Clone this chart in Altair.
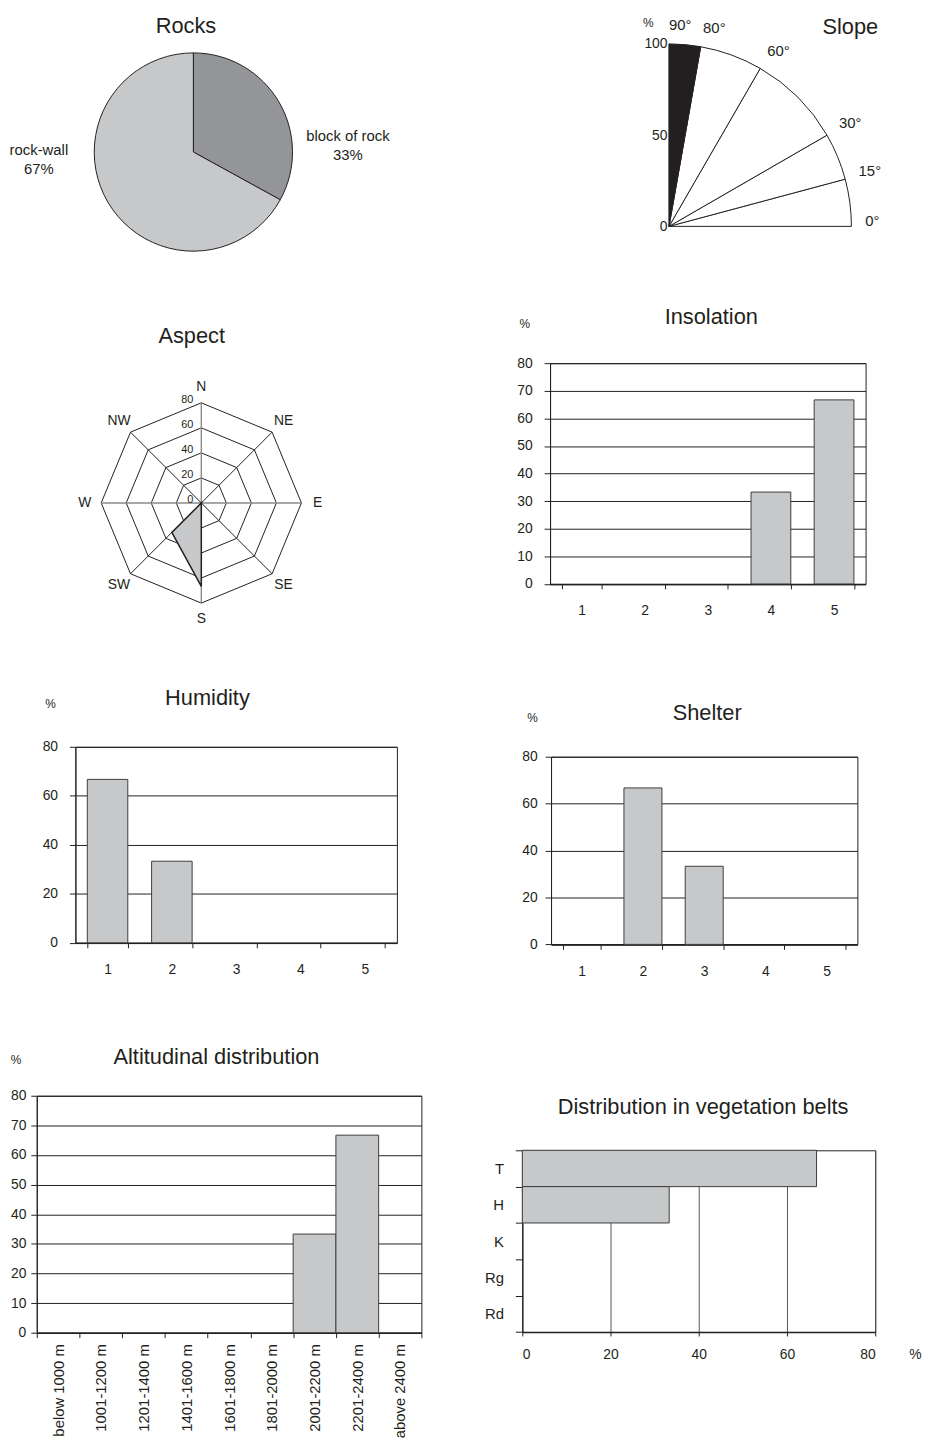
import math
import altair as alt
import pandas as pd

FONT = "Liberation Sans"
INK = "#231f20"
LIGHT = "#c7c8ca"
DARK = "#939598"
BAR_EDGE = "#3d3d3d"

# ---------------- data ----------------
rock_types = ["block of rock", "rock-wall"]
rock_pct = [33, 67]

slope_from = [0, 15, 30, 60, 80]
slope_to = [15, 30, 60, 80, 90]
slope_pct = [0, 0, 0, 0, 100]
slope_marks = [0, 15, 30, 60, 80, 90]

aspect_dirs = ["N", "NE", "E", "SE", "S", "SW", "W", "NW"]
aspect_pct = [0, 0, 0, 0, 66.7, 33.3, 0, 0]
aspect_rings = [20, 40, 60, 80]
aspect_ticks = [0, 20, 40, 60, 80]

classes = ["1", "2", "3", "4", "5"]
insolation_pct = [0, 0, 0, 33.3, 66.7]
humidity_pct = [66.7, 33.3, 0, 0, 0]
shelter_pct = [0, 66.7, 33.3, 0, 0]

altitude_cats = ["below 1000 m", "1001-1200 m", "1201-1400 m", "1401-1600 m",
                 "1601-1800 m", "1801-2000 m", "2001-2200 m", "2201-2400 m",
                 "above 2400 m"]
altitude_pct = [0, 0, 0, 0, 0, 0, 33.3, 66.7, 0]

belts = ["T", "H", "K", "Rg", "Rd"]
belt_pct = [66.7, 33.3, 0, 0, 0]


# ---------------- helpers ----------------
def title(text, offset, dx, anchor="middle"):
    return alt.TitleParams(text=text, font=FONT, fontSize=22, fontWeight="normal",
                           color=INK, baseline="alphabetic", anchor=anchor,
                           frame="group", offset=offset, dx=dx)


dummy = pd.DataFrame({"s": [0]})


def spacer(w, h):
    return alt.Chart(dummy).mark_point(size=0, opacity=0, strokeWidth=0).properties(
        width=w, height=h)


def shift(panel, dx):
    return alt.hconcat(spacer(dx, 1), panel, spacing=0)


# ---------------- Rocks (pie) ----------------
rocks_df = pd.DataFrame({"type": rock_types, "pct": rock_pct,
                         "k": list(range(len(rock_types)))})
rocks_base = alt.Chart(rocks_df).transform_calculate(
    label="datum.type + '\\n' + datum.pct + '%'"
).encode(theta=alt.Theta("pct:Q", stack=True), order=alt.Order("k:Q"))
pie = rocks_base.mark_arc(outerRadius=100, stroke=INK, strokeWidth=1).encode(
    color=alt.Color("type:N", scale=alt.Scale(domain=rock_types, range=[DARK, LIGHT]),
                    legend=None))
pie_lbl = rocks_base.mark_text(radius=156, thetaOffset=0.491, dy=-9, fontSize=15,
                               font=FONT, color=INK, fill=INK, lineBreak="\n",
                               lineHeight=19, align="center", baseline="middle").encode(
    text="label:N")
rocks = alt.layer(pie, pie_lbl).properties(width=200, height=200,
                                           title=title("Rocks", -4, -7.5))

# ---------------- Slope (quarter rose) ----------------
R = 184
slope_df = pd.DataFrame({"lo": slope_from, "hi": slope_to, "pct": slope_pct})
marks_df = pd.DataFrame({"ang": slope_marks})
theta_sc = alt.Scale(domain=[90, -270], range=[0, 2 * math.pi])
ox = alt.X("o:Q", scale=alt.Scale(domain=[0, 100], nice=False), axis=None)
oy = alt.Y("o:Q", scale=alt.Scale(domain=[0, 100], nice=False),
           axis=alt.Axis(values=[0, 50, 100], domain=False, ticks=False, tickSize=0,
                         grid=False, labelPadding=2, labelFontSize=14, labelColor=INK,
                         labelFont=FONT, title="%", titleAngle=0, titleX=-21.3,
                         titleY=-21.6, titleAlign="center", titleBaseline="middle",
                         titleFontSize=12, titleFontWeight="normal", titleColor=INK,
                         titleFont=FONT))
slope_frame = alt.Chart(slope_df).transform_calculate(o="0").mark_arc(
    radius=R, fill="white", stroke=INK, strokeWidth=1).encode(
    theta=alt.Theta("lo:Q", scale=theta_sc, stack=False), theta2="hi:Q", x=ox, y=oy)
slope_wedge = alt.Chart(slope_df).transform_filter("datum.pct > 0").transform_calculate(
    o="0").mark_arc(fill=INK, stroke=INK, strokeWidth=0.5).encode(
    theta=alt.Theta("lo:Q", scale=theta_sc, stack=False), theta2="hi:Q",
    radius=alt.Radius("pct:Q", scale=alt.Scale(type="linear", domain=[0, 100],
                                               range=[0, R])),
    x=ox, y=oy)
slope_lbl = alt.Chart(marks_df).transform_calculate(
    txt="datum.ang + '°'", o="0").mark_text(
    radius=198, align="left", baseline="middle", dy=-5, fontSize=15, font=FONT,
    color=INK, fill=INK).encode(theta=alt.Theta("ang:Q", scale=theta_sc), text="txt:N",
                                x=ox, y=oy)
slope = alt.layer(slope_frame, slope_wedge, slope_lbl).properties(
    width=R, height=R, title=title("Slope", -39.1, 27, anchor="end"))

# ---------------- Aspect (radar) ----------------
asp_df = pd.DataFrame({"dir": aspect_dirs, "idx": list(range(len(aspect_dirs))),
                       "pct": aspect_pct})
ring_df = pd.DataFrame([{"level": lv, "idx": i} for lv in aspect_rings
                        for i in range(len(aspect_dirs))])
tick_df = pd.DataFrame({"level": aspect_ticks})
xs = alt.Scale(domain=[-80, 80], nice=False, zero=False)
ys = alt.Scale(domain=[-80, 80], nice=False, zero=False)

rings = alt.Chart(ring_df).transform_calculate(
    rx="datum.level * sin(datum.idx * PI / 4)",
    ry="datum.level * cos(datum.idx * PI / 4)"
).mark_line(interpolate="linear-closed", stroke=INK, strokeWidth=1).encode(
    x=alt.X("rx:Q", scale=xs, axis=None), y=alt.Y("ry:Q", scale=ys, axis=None),
    detail="level:N", order="idx:Q")


def spokes(expr, color, width):
    return alt.Chart(asp_df).transform_filter(expr).transform_calculate(
        cx="0", cy="0",
        sx="80 * sin(datum.idx * PI / 4)", sy="80 * cos(datum.idx * PI / 4)"
    ).mark_rule(color=color, strokeWidth=width).encode(
        x=alt.X("cx:Q", scale=xs, axis=None), y=alt.Y("cy:Q", scale=ys, axis=None),
        x2="sx:Q", y2="sy:Q")


spokes_main = spokes("datum.idx % 2 == 0", "#8a8a8a", 1.4)
spokes_diag = spokes("datum.idx % 2 == 1", INK, 1)
poly = alt.Chart(asp_df).transform_calculate(
    px="datum.pct * sin(datum.idx * PI / 4)",
    py="datum.pct * cos(datum.idx * PI / 4)"
).mark_line(interpolate="linear-closed", fill=LIGHT, stroke=INK, strokeWidth=1.5).encode(
    x=alt.X("px:Q", scale=xs, axis=None), y=alt.Y("py:Q", scale=ys, axis=None),
    order="idx:Q")
dir_lbl = alt.Chart(asp_df).transform_calculate(
    lx="93 * sin(datum.idx * PI / 4)", ly="93 * cos(datum.idx * PI / 4)"
).mark_text(fontSize=14, font=FONT, color=INK, fill=INK, baseline="middle").encode(
    x=alt.X("lx:Q", scale=xs, axis=None), y=alt.Y("ly:Q", scale=ys, axis=None),
    text="dir:N")
tick_lbl = alt.Chart(tick_df).transform_calculate(cx="0").mark_text(
    fontSize=11, font=FONT, color=INK, fill=INK, align="right", baseline="alphabetic",
    dx=-8
).encode(x=alt.X("cx:Q", scale=xs, axis=None), y=alt.Y("level:Q", scale=ys, axis=None),
         text="level:Q")
aspect = alt.layer(rings, spokes_main, spokes_diag, poly, dir_lbl, tick_lbl).properties(
    width=202, height=202, title=title("Aspect", 14.6, -9.7))


# ---------------- column charts ----------------
def bar_panel(cats, vals, name, w, h, ystep, pad, ylab_pad, pct_xy, t_off, t_dx,
              xlab_angle=0, xlab_pad=15, xlab_size=14):
    df = pd.DataFrame({"cls": cats, "pct": vals})
    xax = alt.Axis(title=None, labelAngle=xlab_angle, tickBand="extent", tickSize=5,
                   labelPadding=xlab_pad, grid=False, domainColor=INK, domainWidth=1.5,
                   tickColor=INK, labelColor=INK, labelFont=FONT, labelFontSize=xlab_size)
    yax = alt.Axis(values=list(range(0, 81, ystep)), grid=True, gridColor=INK,
                   gridWidth=1, domainColor=INK, tickColor=INK, tickSize=6,
                   labelPadding=ylab_pad, labelColor=INK, labelFont=FONT,
                   labelFontSize=14, title="%", titleAngle=0, titleX=pct_xy[0],
                   titleY=pct_xy[1], titleAlign="center", titleBaseline="middle",
                   titleFont=FONT, titleFontSize=12, titleFontWeight="normal",
                   titleColor=INK)
    return alt.Chart(df).transform_filter("datum.pct > 0").mark_bar(
        fill=LIGHT, stroke=BAR_EDGE, strokeWidth=1).encode(
        x=alt.X("cls:N", sort=cats,
                scale=alt.Scale(domain=cats, paddingInner=pad, paddingOuter=pad / 2),
                axis=xax),
        y=alt.Y("pct:Q", scale=alt.Scale(domain=[0, 80], nice=False), axis=yax)
    ).properties(width=w, height=h, title=title(name, t_off, t_dx),
                 view=alt.ViewBackground(stroke=INK, strokeWidth=1))


insolation = bar_panel(classes, insolation_pct, "Insolation", 318.3, 222.7, 10, 0.37, 12,
                       (-26, -39.6), -27.6, 3.5)
humidity = bar_panel(classes, humidity_pct, "Humidity", 324.3, 197.7, 20, 0.37, 12,
                     (-25.7, -43.3), -28.7, -29)
shelter = bar_panel(classes, shelter_pct, "Shelter", 309, 189.3, 20, 0.38, 8,
                    (-19.3, -40), -31, 3)
altitude = bar_panel(altitude_cats, altitude_pct, "Altitudinal distribution", 388, 239,
                     10, 0, 5, (-21.4, -37), -33, -12.7, xlab_angle=-90, xlab_pad=6,
                     xlab_size=15)

# ---------------- vegetation belts ----------------
belt_df = pd.DataFrame({"belt": belts, "pct": belt_pct})
belt_y = alt.Y("belt:N", sort=belts,
               scale=alt.Scale(domain=belts, paddingInner=0, paddingOuter=0),
               axis=alt.Axis(title=None, tickBand="extent", tickSize=7, labelPadding=12,
                             domainColor=INK, tickColor=INK, labelColor=INK,
                             labelFont=FONT, labelFontSize=15, grid=False))
belt_x = alt.X("pct:Q", scale=alt.Scale(domain=[0, 80], nice=False),
               axis=alt.Axis(values=[0, 20, 40, 60, 80], grid=True, gridColor="#555555",
                             gridWidth=1, tickSize=4, labelPadding=12, domainColor=INK,
                             domainWidth=1.5, tickColor=INK, labelColor=INK,
                             labelFont=FONT, labelFontSize=14, title="%", titleAngle=0,
                             titleX=396, titleY=22.3, titleAlign="center",
                             titleBaseline="middle", titleFont=FONT, titleFontSize=14,
                             titleFontWeight="normal", titleColor=INK))
vegetation = alt.Chart(belt_df).transform_filter("datum.pct > 0").mark_bar(
    fill=LIGHT, stroke=BAR_EDGE, strokeWidth=1).encode(x=belt_x, y=belt_y).properties(
    width=356, height=183.3, title=title("Distribution in vegetation belts", 7.6, 4.4),
    view=alt.ViewBackground(stroke=INK, strokeWidth=1))

# ---------------- layout ----------------
left_col = alt.vconcat(
    spacer(1, 1),
    shift(rocks, 1),
    spacer(1, 71.6),
    shift(aspect, 69.3),
    spacer(1, 58.8),
    shift(humidity, 32.7),
    spacer(1, 67.4),
    shift(altitude, 1),
    spacing=0,
)
right_col = alt.vconcat(
    spacer(1, 1),
    shift(slope, 161.0),
    spacer(1, 71.9),
    shift(insolation, 32.2),
    spacer(1, 82.5),
    shift(shelter, 37.2),
    spacer(1, 116.4),
    shift(vegetation, 1),
    spacing=0,
)

chart = alt.hconcat(left_col, right_col, spacing=60.8).properties(
    padding=0
).configure(font=FONT, background="white").configure_view(stroke=None)

chart.save("out.html", embed_options={"renderer": "svg", "actions": False})
